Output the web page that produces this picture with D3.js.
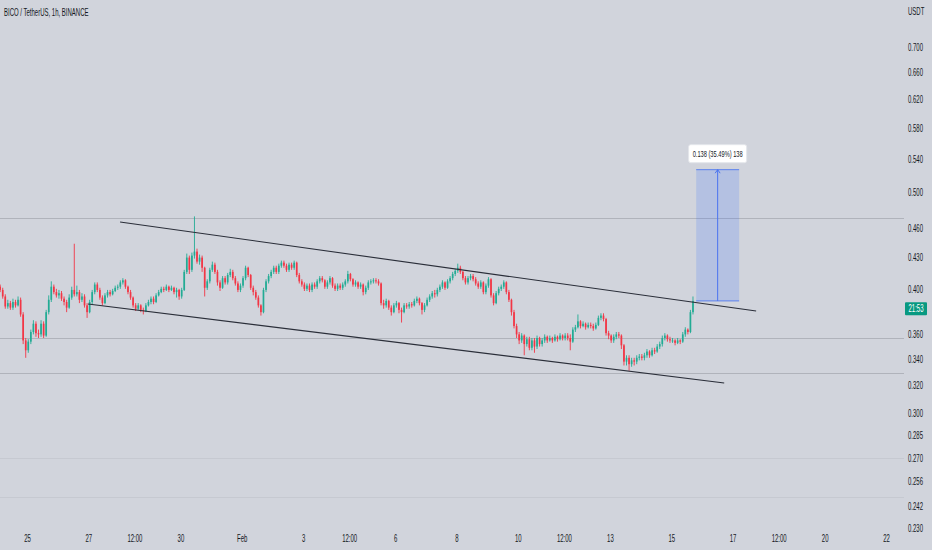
<!DOCTYPE html>
<html><head><meta charset="utf-8">
<script src="https://cdn.jsdelivr.net/npm/d3@7"></script>
<style>
html,body{margin:0;padding:0;background:#d1d4dc;}
svg{display:block;font-family:"Liberation Sans",Arial,sans-serif;}
</style>
</head><body>
<svg id="chart" width="932" height="550"></svg>
<script>
// ---------------- DATA ----------------
const symbolTitle = "BICO / TetherUS, 1h, BINANCE";
const quoteUnit = "USDT";
const firstCandleOpenTime = "2022-01-24T02:00";
const candleHours = 2;
// prices in thousandths of USDT (e.g. 399 = 0.399)
const firstOpen = 402;
const closes = [
399,393,384,387,383,388,385,390,377,355,
347,354,362,369,361,360,369,359,379,390,
402,397,394,396,391,388,383,392,399,395,
397,390,393,385,379,388,397,404,399,392,
387,394,397,395,398,401,402,406,408,402,
397,392,385,382,385,381,380,385,388,391,
388,394,397,400,399,402,399,401,397,399,
393,399,416,430,418,432,436,426,430,420,
401,407,418,423,416,406,401,410,406,413,
416,410,405,399,403,410,420,413,401,397,
392,385,379,399,407,412,416,420,416,422,
425,422,418,423,420,425,413,407,404,400,
403,399,404,402,407,410,408,402,406,410,
403,400,403,401,404,407,414,409,404,406,
402,404,397,401,406,407,408,407,405,387,
385,389,383,379,385,387,381,379,385,384,
386,385,389,391,387,381,385,390,393,396,
395,399,402,406,401,407,410,414,417,420,
416,410,406,410,412,409,405,402,406,397,
403,409,394,387,396,400,402,406,397,390,
379,367,360,355,359,352,356,349,355,350,
357,352,355,358,355,357,355,358,356,359,
357,359,357,354,364,366,371,367,369,366,
368,367,365,368,374,376,373,361,359,355,
358,360,359,351,338,341,336,339,338,341,
342,341,343,346,343,347,346,350,352,357,
359,356,355,355,353,355,354,360,364,362,379,389];
const highs = [
404,401,395,390,389,391,390,393,392,379,
357,356,364,372,371,364,372,371,381,394,
407,404,400,399,398,393,390,395,402,444,
403,399,396,395,387,390,399,406,406,401,
394,396,399,399,400,403,404,408,410,409,
403,399,393,387,387,386,383,387,390,393,
393,396,399,402,402,404,403,403,402,401,
400,401,418,434,432,435,473,439,433,432,
421,409,420,426,425,418,408,412,412,415,
419,418,412,407,405,412,422,421,414,403,
399,394,386,401,409,414,418,422,422,424,
427,427,424,425,425,427,426,415,409,406,
405,405,406,406,409,412,412,409,408,412,
411,405,405,405,406,409,417,415,410,408,
407,406,405,403,408,409,410,410,409,406,
390,391,390,385,387,389,388,383,387,387,
388,388,391,393,392,388,387,392,395,398,
399,401,404,408,407,409,412,416,419,424,
422,417,412,412,414,414,411,407,408,407,
405,411,410,396,398,402,404,408,407,399,
391,381,369,362,361,360,358,358,357,357,
359,358,357,360,359,359,358,360,359,361,
360,361,361,360,366,368,377,372,371,370,
370,370,369,370,376,378,378,374,363,360,
360,362,362,360,352,343,343,341,341,343,
344,344,345,348,347,349,349,352,354,359,
361,360,358,357,356,357,356,362,366,365,381,393];
const lows = [
397,391,382,382,381,381,383,384,375,352,
341,345,352,360,358,357,358,357,358,377,
388,395,392,391,389,385,379,382,390,393,
393,387,388,383,374,378,386,395,397,390,
385,386,392,393,394,397,399,400,404,400,
395,390,383,380,381,379,377,379,384,386,
386,387,393,396,397,398,397,398,395,392,
390,391,398,414,414,416,429,424,423,416,
393,399,405,416,414,403,398,400,404,404,
411,408,403,397,397,401,408,411,399,394,
390,383,376,378,397,405,410,414,414,414,
420,420,416,416,418,418,411,405,402,398,
398,397,397,400,400,405,406,400,400,404,
401,398,398,399,399,402,405,407,402,402,
400,400,394,395,399,404,405,405,403,385,
382,383,381,376,378,383,378,370,378,382,
382,383,384,387,385,377,379,384,388,391,
392,393,397,400,399,400,405,408,412,415,
414,408,404,404,408,407,403,400,400,395,
395,401,392,385,386,394,398,400,395,388,
376,365,357,352,353,343,350,347,347,345,
348,350,350,353,353,354,353,354,354,355,
355,355,355,347,353,362,365,365,366,364,
365,365,363,364,367,372,371,359,356,353,
353,356,357,348,335,335,331,334,335,336,
339,339,339,341,341,342,344,345,348,350,
355,354,353,353,351,352,352,353,358,360,361,377];

const priceTicks = [0.700,0.660,0.620,0.580,0.540,0.500,0.460,0.430,0.400,0.360,0.340,0.320,0.300,0.285,0.270,0.256,0.242,0.230];
const timeTicks = ["2022-01-25T00:00","2022-01-27T00:00","2022-01-28T12:00","2022-01-30T00:00","2022-02-01T00:00","2022-02-03T00:00","2022-02-04T12:00","2022-02-06T00:00","2022-02-08T00:00","2022-02-10T00:00","2022-02-11T12:00","2022-02-13T00:00","2022-02-15T00:00","2022-02-17T00:00","2022-02-18T12:00","2022-02-20T00:00","2022-02-22T00:00"];
const timeLabels = ["25","27","12:00","30","Feb","3","12:00","6","8","10","12:00","13","15","17","12:00","20","22"];

const trendLines = [
  {t1:"2022-01-28T00:48", p1:0.4669, t2:"2022-02-17T18:24", p2:0.380},
  {t1:"2022-01-26T23:42", p1:0.3862, t2:"2022-02-16T17:24", p2:0.3217}
];
const horizontalLevels = [0.4713, 0.357, 0.3292];
const faintLevels = [0.2705, 0.2471];
const measure = {t1:"2022-02-15T19:30", t2:"2022-02-17T05:06", p1:0.389, p2:0.527, label:"0.138 (35.49%) 138"};
const countdown = {price:0.382, text:"21:53"};

// ---------------- CHART ----------------
const W = 932, H = 550, plotRight = 904, plotBottom = 526;
const squeeze = 0.6;
const parse = d3.timeParse("%Y-%m-%dT%H:%M");
const HOUR = 3600 * 1000;

const x = d3.scaleTime()
  .domain([parse("2022-01-25T00:00"), parse("2022-02-22T00:00")])
  .range([27, 886]);
const y = d3.scaleLog().domain([0.23, 0.70]).range([528, 47]);

const t0 = parse(firstCandleOpenTime).getTime();
const candles = closes.map((c, i) => ({
  t: new Date(t0 + (i * candleHours + candleHours / 2) * HOUR),
  o: (i === 0 ? firstOpen : closes[i - 1]) / 1000,
  c: c / 1000,
  h: highs[i] / 1000,
  l: lows[i] / 1000
}));

const svg = d3.select("#chart");
svg.append("rect").attr("width", W).attr("height", H).attr("fill", "#d1d4dc");

svg.append("defs").append("clipPath").attr("id", "plotClip")
  .append("rect").attr("x", 0).attr("y", 0).attr("width", plotRight).attr("height", plotBottom);

const plot = svg.append("g").attr("clip-path", "url(#plotClip)");

// horizontal levels
plot.selectAll("line.faint").data(faintLevels).join("line")
  .attr("x1", 0).attr("x2", plotRight)
  .attr("y1", d => Math.round(y(d)) + 0.5).attr("y2", d => Math.round(y(d)) + 0.5)
  .attr("stroke", "#c6c9d1").attr("stroke-width", 1);
plot.selectAll("line.level").data(horizontalLevels).join("line")
  .attr("x1", 0).attr("x2", plotRight)
  .attr("y1", d => Math.round(y(d)) + 0.5).attr("y2", d => Math.round(y(d)) + 0.5)
  .attr("stroke", "#b0b3bb").attr("stroke-width", 1);

// candles
const up = "#22ab94", down = "#f23645";
const step = x(new Date(t0 + candleHours * HOUR)) - x(new Date(t0));
const bw = step * 0.66;
const cg = plot.append("g");
cg.selectAll("line.wick").data(candles).join("line")
  .attr("x1", d => x(d.t)).attr("x2", d => x(d.t))
  .attr("y1", d => y(d.h)).attr("y2", d => y(d.l))
  .attr("stroke", d => d.c >= d.o ? up : down).attr("stroke-width", 0.9);
cg.selectAll("rect.body").data(candles).join("rect")
  .attr("x", d => x(d.t) - bw / 2).attr("width", bw)
  .attr("y", d => y(Math.max(d.o, d.c)))
  .attr("height", d => Math.max(1, Math.abs(y(d.o) - y(d.c))))
  .attr("fill", d => d.c >= d.o ? up : down);

// trend lines
plot.selectAll("line.trend").data(trendLines).join("line")
  .attr("x1", d => x(parse(d.t1))).attr("y1", d => y(d.p1))
  .attr("x2", d => x(parse(d.t2))).attr("y2", d => y(d.p2))
  .attr("stroke", "#2a2e39").attr("stroke-width", 1.1);

// measure tool
const mx1 = x(parse(measure.t1)), mx2 = x(parse(measure.t2));
const my1 = y(measure.p1), my2 = y(measure.p2);
const mg = plot.append("g");
mg.append("rect").attr("x", mx1).attr("y", my2).attr("width", mx2 - mx1).attr("height", my1 - my2)
  .attr("fill", "rgba(41,98,255,0.17)");
[my1, my2].forEach(v => mg.append("line").attr("x1", mx1).attr("x2", mx2)
  .attr("y1", v).attr("y2", v).attr("stroke", "#5a80ee").attr("stroke-width", 1));
const mxc = (mx1 + mx2) / 2;
mg.append("line").attr("x1", mxc).attr("x2", mxc).attr("y1", my1).attr("y2", my2)
  .attr("stroke", "#4a74f0").attr("stroke-width", 1);
mg.append("path").attr("d", `M${mxc - 2.5},${my2 + 3.5} L${mxc},${my2} L${mxc + 2.5},${my2 + 3.5}`)
  .attr("fill", "none").attr("stroke", "#4a74f0").attr("stroke-width", 1);
const lblY = my2 - 16;
mg.append("rect").attr("x", mxc - 29).attr("y", lblY - 9).attr("width", 58).attr("height", 18)
  .attr("rx", 2).attr("fill", "#ffffff").attr("stroke", "#e4e6eb");
mg.append("text").attr("transform", `translate(${mxc},${lblY}) scale(${squeeze},1)`)
  .attr("text-anchor", "middle").attr("dy", "0.35em")
  .attr("font-size", 9.5).attr("fill", "#131722").text(measure.label);

// title
svg.append("text").attr("transform", `translate(4,12) scale(${squeeze},1)`)
  .attr("dy", "0.35em").attr("font-size", 10).attr("fill", "#131722").text(symbolTitle);

// price axis
const yAxis = d3.axisRight(y).tickValues(priceTicks).tickFormat(d3.format(".3f")).tickSize(0).tickPadding(0);
const ya = svg.append("g").attr("transform", `translate(908,0)`).call(yAxis);
ya.select(".domain").remove();
ya.selectAll("text").attr("x", 0).attr("transform", `scale(${squeeze},1)`)
  .attr("font-size", 10).attr("fill", "#131722").attr("font-family", null);

svg.append("text").attr("transform", `translate(908,11) scale(${squeeze},1)`)
  .attr("dy", "0.35em").attr("font-size", 10).attr("fill", "#131722").text(quoteUnit);

// countdown label
const cy = y(countdown.price);
svg.append("rect").attr("x", 905).attr("y", cy - 6.5).attr("width", 22).attr("height", 13)
  .attr("rx", 1).attr("fill", "#089981");
svg.append("text").attr("transform", `translate(916,${cy}) scale(${squeeze},1)`)
  .attr("text-anchor", "middle").attr("dy", "0.35em").attr("font-size", 10)
  .attr("fill", "#ffffff").text(countdown.text);

// time axis
const xAxis = d3.axisBottom(x).tickValues(timeTicks.map(parse))
  .tickFormat((d, i) => timeLabels[i]).tickSize(0).tickPadding(0);
const xa = svg.append("g").attr("transform", `translate(0,538)`).call(xAxis);
xa.select(".domain").remove();
xa.selectAll("text").attr("y", 0).attr("dy", "0.35em").attr("transform", `scale(${squeeze},1)`)
  .attr("font-size", 10).attr("fill", "#131722").attr("font-family", null);
</script>
</body></html>
